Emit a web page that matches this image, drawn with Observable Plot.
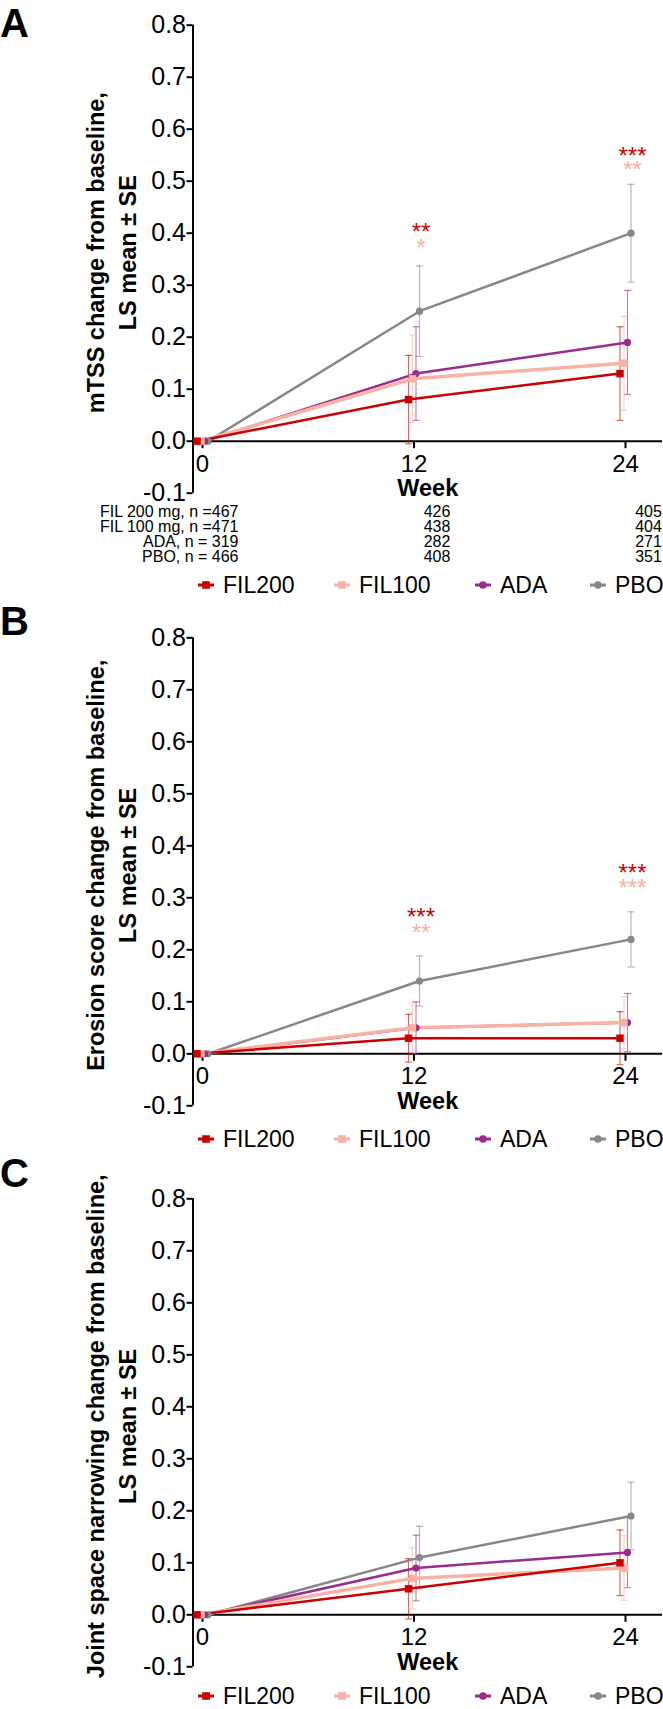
<!DOCTYPE html>
<html><head><meta charset="utf-8">
<script src="https://cdn.jsdelivr.net/npm/d3@7"></script>
<script src="https://cdn.jsdelivr.net/npm/@observablehq/plot@0.6"></script>
<style>
body{margin:0;background:#fff;font-family:"Liberation Sans",Arial,sans-serif;}
#root{position:relative;width:663px;height:1709px;overflow:hidden;background:#fff;}
.panel{position:absolute;left:0;}
.panel svg{overflow:visible;display:block;}
.letter{position:absolute;left:0;font-weight:bold;font-size:40px;line-height:46px;color:#000;}
.legend{position:absolute;left:0;width:663px;height:20px;}
.item{position:absolute;top:0;display:flex;align-items:center;font-size:23px;line-height:20px;height:20px;color:#000;white-space:nowrap;}
.item svg{display:block;margin-right:9px;}
</style></head>
<body><div id="root"></div>
<script>
// ---------- data ----------
const weeks = [0, 12, 24];
const groups = ["FIL200", "FIL100", "ADA", "PBO"];
const colors = ["#cc0000", "#f7b2a5", "#9b2b8c", "#878787"];
const symbols = ["square", "square", "circle", "circle"];
const yTicks = [-0.1, 0, 0.1, 0.2, 0.3, 0.4, 0.5, 0.6, 0.7, 0.8];
const xTicks = [0, 12, 24];

// Panel A: mTSS
const mtssMean = [[0, 0.08, 0.13], [0, 0.12, 0.15], [0, 0.13, 0.19], [0, 0.25, 0.40]];
const mtssSE   = [[0, 0.085, 0.09], [0, 0.084, 0.09], [0, 0.09, 0.10], [0, 0.087, 0.094]];
const mtssStars = [
  {week: 12, group: "FIL200", text: "**", level: 0.413},
  {week: 12, group: "FIL100", text: "*", level: 0.382},
  {week: 24, group: "FIL200", text: "***", level: 0.559},
  {week: 24, group: "FIL100", text: "**", level: 0.532}
];
// Panel B: erosion score
const erosMean = [[0, 0.03, 0.03], [0, 0.05, 0.06], [0, 0.05, 0.06], [0, 0.14, 0.22]];
const erosSE   = [[0, 0.046, 0.051], [0, 0.048, 0.05], [0, 0.05, 0.056], [0, 0.048, 0.053]];
const erosStars = [
  {week: 12, group: "FIL200", text: "***", level: 0.274},
  {week: 12, group: "FIL100", text: "**", level: 0.243},
  {week: 24, group: "FIL200", text: "***", level: 0.358},
  {week: 24, group: "FIL100", text: "***", level: 0.330}
];
// Panel C: joint space narrowing
const jsnMean = [[0, 0.05, 0.10], [0, 0.07, 0.09], [0, 0.09, 0.12], [0, 0.11, 0.19]];
const jsnSE   = [[0, 0.058, 0.063], [0, 0.059, 0.062], [0, 0.063, 0.068], [0, 0.06, 0.065]];
const jsnStars = [];

// n at risk (panel A)
const nLabels = ["FIL 200 mg, n =", "FIL 100 mg, n =", "ADA, n = ", "PBO, n = "];
const nBase = [467, 471, 319, 466];
const nWeek12 = [426, 438, 282, 408];
const nWeek24 = [405, 404, 271, 351];

const titlesA = ["mTSS change from baseline,", "LS mean ± SE"];
const titlesB = ["Erosion score change from baseline,", "LS mean ± SE"];
const titlesC = ["Joint space narrowing change from baseline,", "LS mean ± SE"];

// ---------- styles ----------
const xDomain = [-0.54, 26.1];
const yDomain = [-0.1, 0.8];
const dodge = [-5.5, -1.5, 2, 5.5];
const lineW = [2.5, 3.5, 2.5, 2.5];
const markR = [4.2, 4.2, 3.6, 3.6];
const FONT = "'Liberation Sans', Arial, sans-serif";
const fmt = d => d.toFixed(1);
const capSymbol = {draw(ctx, size) { const r = Math.sqrt(size / Math.PI); ctx.moveTo(-r, 0); ctx.lineTo(r, 0); }};
const tickSymbol = {draw(ctx) { ctx.moveTo(0, 0); ctx.lineTo(0, 7); }};

function makePanel({mean, se, stars, titles, marginTop, marginBottom, table}) {
  const rows = groups.flatMap((g, i) => weeks.map((w, j) => ({
    group: g, gi: i, week: w, mean: mean[i][j], se: se[i][j],
    lo: mean[i][j] - se[i][j], hi: mean[i][j] + se[i][j]
  })));
  const order = [3, 2, 1, 0];
  const marks = [];
  // axes
  marks.push(Plot.ruleX([xDomain[0]], {y1: () => yDomain[0], y2: () => yDomain[1], stroke: "black", strokeWidth: 2}));
  marks.push(Plot.ruleY([0], {stroke: "black", strokeWidth: 2}));
  marks.push(Plot.axisY({ticks: yTicks, tickFormat: fmt, tickSize: 6, tickPadding: 1, fontSize: 25, strokeWidth: 2, label: null}));
  marks.push(Plot.dot(xTicks, {x: d => d, y: () => 0, symbol: tickSymbol, r: 1, stroke: "black", strokeWidth: 2, fill: "none"}));
  marks.push(Plot.text(xTicks, {x: d => d, y: () => 0, text: d => String(d), dy: 23, fontSize: 24}));
  // error bars
  for (const i of order) {
    const r = rows.filter(d => d.gi === i && d.se > 0);
    const st = {stroke: colors[i], strokeWidth: 1.2, strokeOpacity: 0.6, dx: dodge[i]};
    marks.push(Plot.ruleX(r, {x: "week", y1: "lo", y2: "hi", ...st}));
    marks.push(Plot.dot(r, {x: "week", y: "hi", symbol: capSymbol, r: 3.5, fill: "none", ...st}));
    marks.push(Plot.dot(r, {x: "week", y: "lo", symbol: capSymbol, r: 3.5, fill: "none", ...st}));
  }
  // lines and markers
  for (const i of order) {
    const r = rows.filter(d => d.gi === i);
    marks.push(Plot.line(r, {x: "week", y: "mean", stroke: colors[i], strokeWidth: lineW[i], dx: dodge[i]}));
  }
  for (const i of order) {
    const r = rows.filter(d => d.gi === i);
    marks.push(Plot.dot(r, {x: "week", y: "mean", symbol: symbols[i], r: markR[i], fill: colors[i], stroke: "none", dx: dodge[i]}));
  }
  // significance stars
  groups.forEach((g, i) => {
    const s = stars.filter(d => d.group === g);
    if (s.length) marks.push(Plot.text(s, {x: "week", y: "level", text: "text", fill: colors[i], fontSize: 24, dx: 7, dy: 6}));
  });
  // y title (two lines, rotated)
  marks.push(Plot.text([titles[0]], {frameAnchor: "left", textAnchor: "middle", rotate: -90, dx: -96.7, dy: -6.5, fontWeight: "bold", fontSize: 23.5}));
  marks.push(Plot.text([titles[1]], {frameAnchor: "left", textAnchor: "middle", rotate: -90, dx: -64.7, dy: -6.5, fontWeight: "bold", fontSize: 23.5}));
  // x label
  marks.push(Plot.text(["Week"], {frameAnchor: "bottom", dy: 3, fontWeight: "bold", fontSize: 23.5}));
  // n table
  if (table) {
    nLabels.forEach((lab, i) => {
      const dy = 24 + 14.9 * i;
      marks.push(Plot.text([{week: 0, t: lab + nBase[i]}], {x: "week", text: "t", frameAnchor: "bottom", dy, dx: 36, textAnchor: "end", fontSize: 16}));
      marks.push(Plot.text([{week: 12, t: nWeek12[i]}, {week: 24, t: nWeek24[i]}], {x: "week", text: d => String(d.t), frameAnchor: "bottom", dy, dx: 23, fontSize: 16}));
    });
  }
  const height = marginTop + 468 + marginBottom;
  return Plot.plot({
    width: 663, height, marginTop, marginBottom, marginLeft: 192.5, marginRight: 1,
    x: {domain: xDomain, axis: null},
    y: {domain: yDomain, axis: null},
    style: {fontFamily: FONT, fontSize: "16px", overflow: "visible", background: "transparent", color: "black"},
    marks
  });
}

function legend(top) {
  const div = document.createElement("div");
  div.className = "legend";
  div.style.top = top + "px";
  const xs = [198, 334, 475, 590];
  groups.forEach((g, i) => {
    const it = document.createElement("div");
    it.className = "item";
    it.style.left = xs[i] + "px";
    const sym = symbols[i] === "square"
      ? `<rect x="4.2" y="2.2" width="7.6" height="7.6" fill="${colors[i]}"/>`
      : `<circle cx="8" cy="6" r="3.8" fill="${colors[i]}"/>`;
    it.innerHTML = `<svg width="16" height="12"><line x1="0" x2="16" y1="6" y2="6" stroke="${colors[i]}" stroke-width="3"/>${sym}</svg><span>${g}</span>`;
    div.appendChild(it);
  });
  return div;
}

const root = document.getElementById("root");
function place(el, top) { const d = document.createElement("div"); d.className = "panel"; d.style.top = top + "px"; d.appendChild(el); root.appendChild(d); }

place(makePanel({mean: mtssMean, se: mtssSE, stars: mtssStars, titles: titlesA, marginTop: 24.7, marginBottom: 80, table: true}), 0);
place(makePanel({mean: erosMean, se: erosSE, stars: erosStars, titles: titlesB, marginTop: 25.3, marginBottom: 25, table: false}), 612);
place(makePanel({mean: jsnMean, se: jsnSE, stars: jsnStars, titles: titlesC, marginTop: 38.3, marginBottom: 25, table: false}), 1160);

root.appendChild(legend(585 - 10));
root.appendChild(legend(1139 - 10));
root.appendChild(legend(1695.5 - 10));

// letters: line-height 46 puts the baseline ~36.9px below the box top
[["A", 0], ["B", 598], ["C", 1150]].forEach(([t, top]) => {
  const d = document.createElement("div"); d.className = "letter"; d.style.top = top + "px"; d.textContent = t; root.appendChild(d);
});
</script>
</body></html>
